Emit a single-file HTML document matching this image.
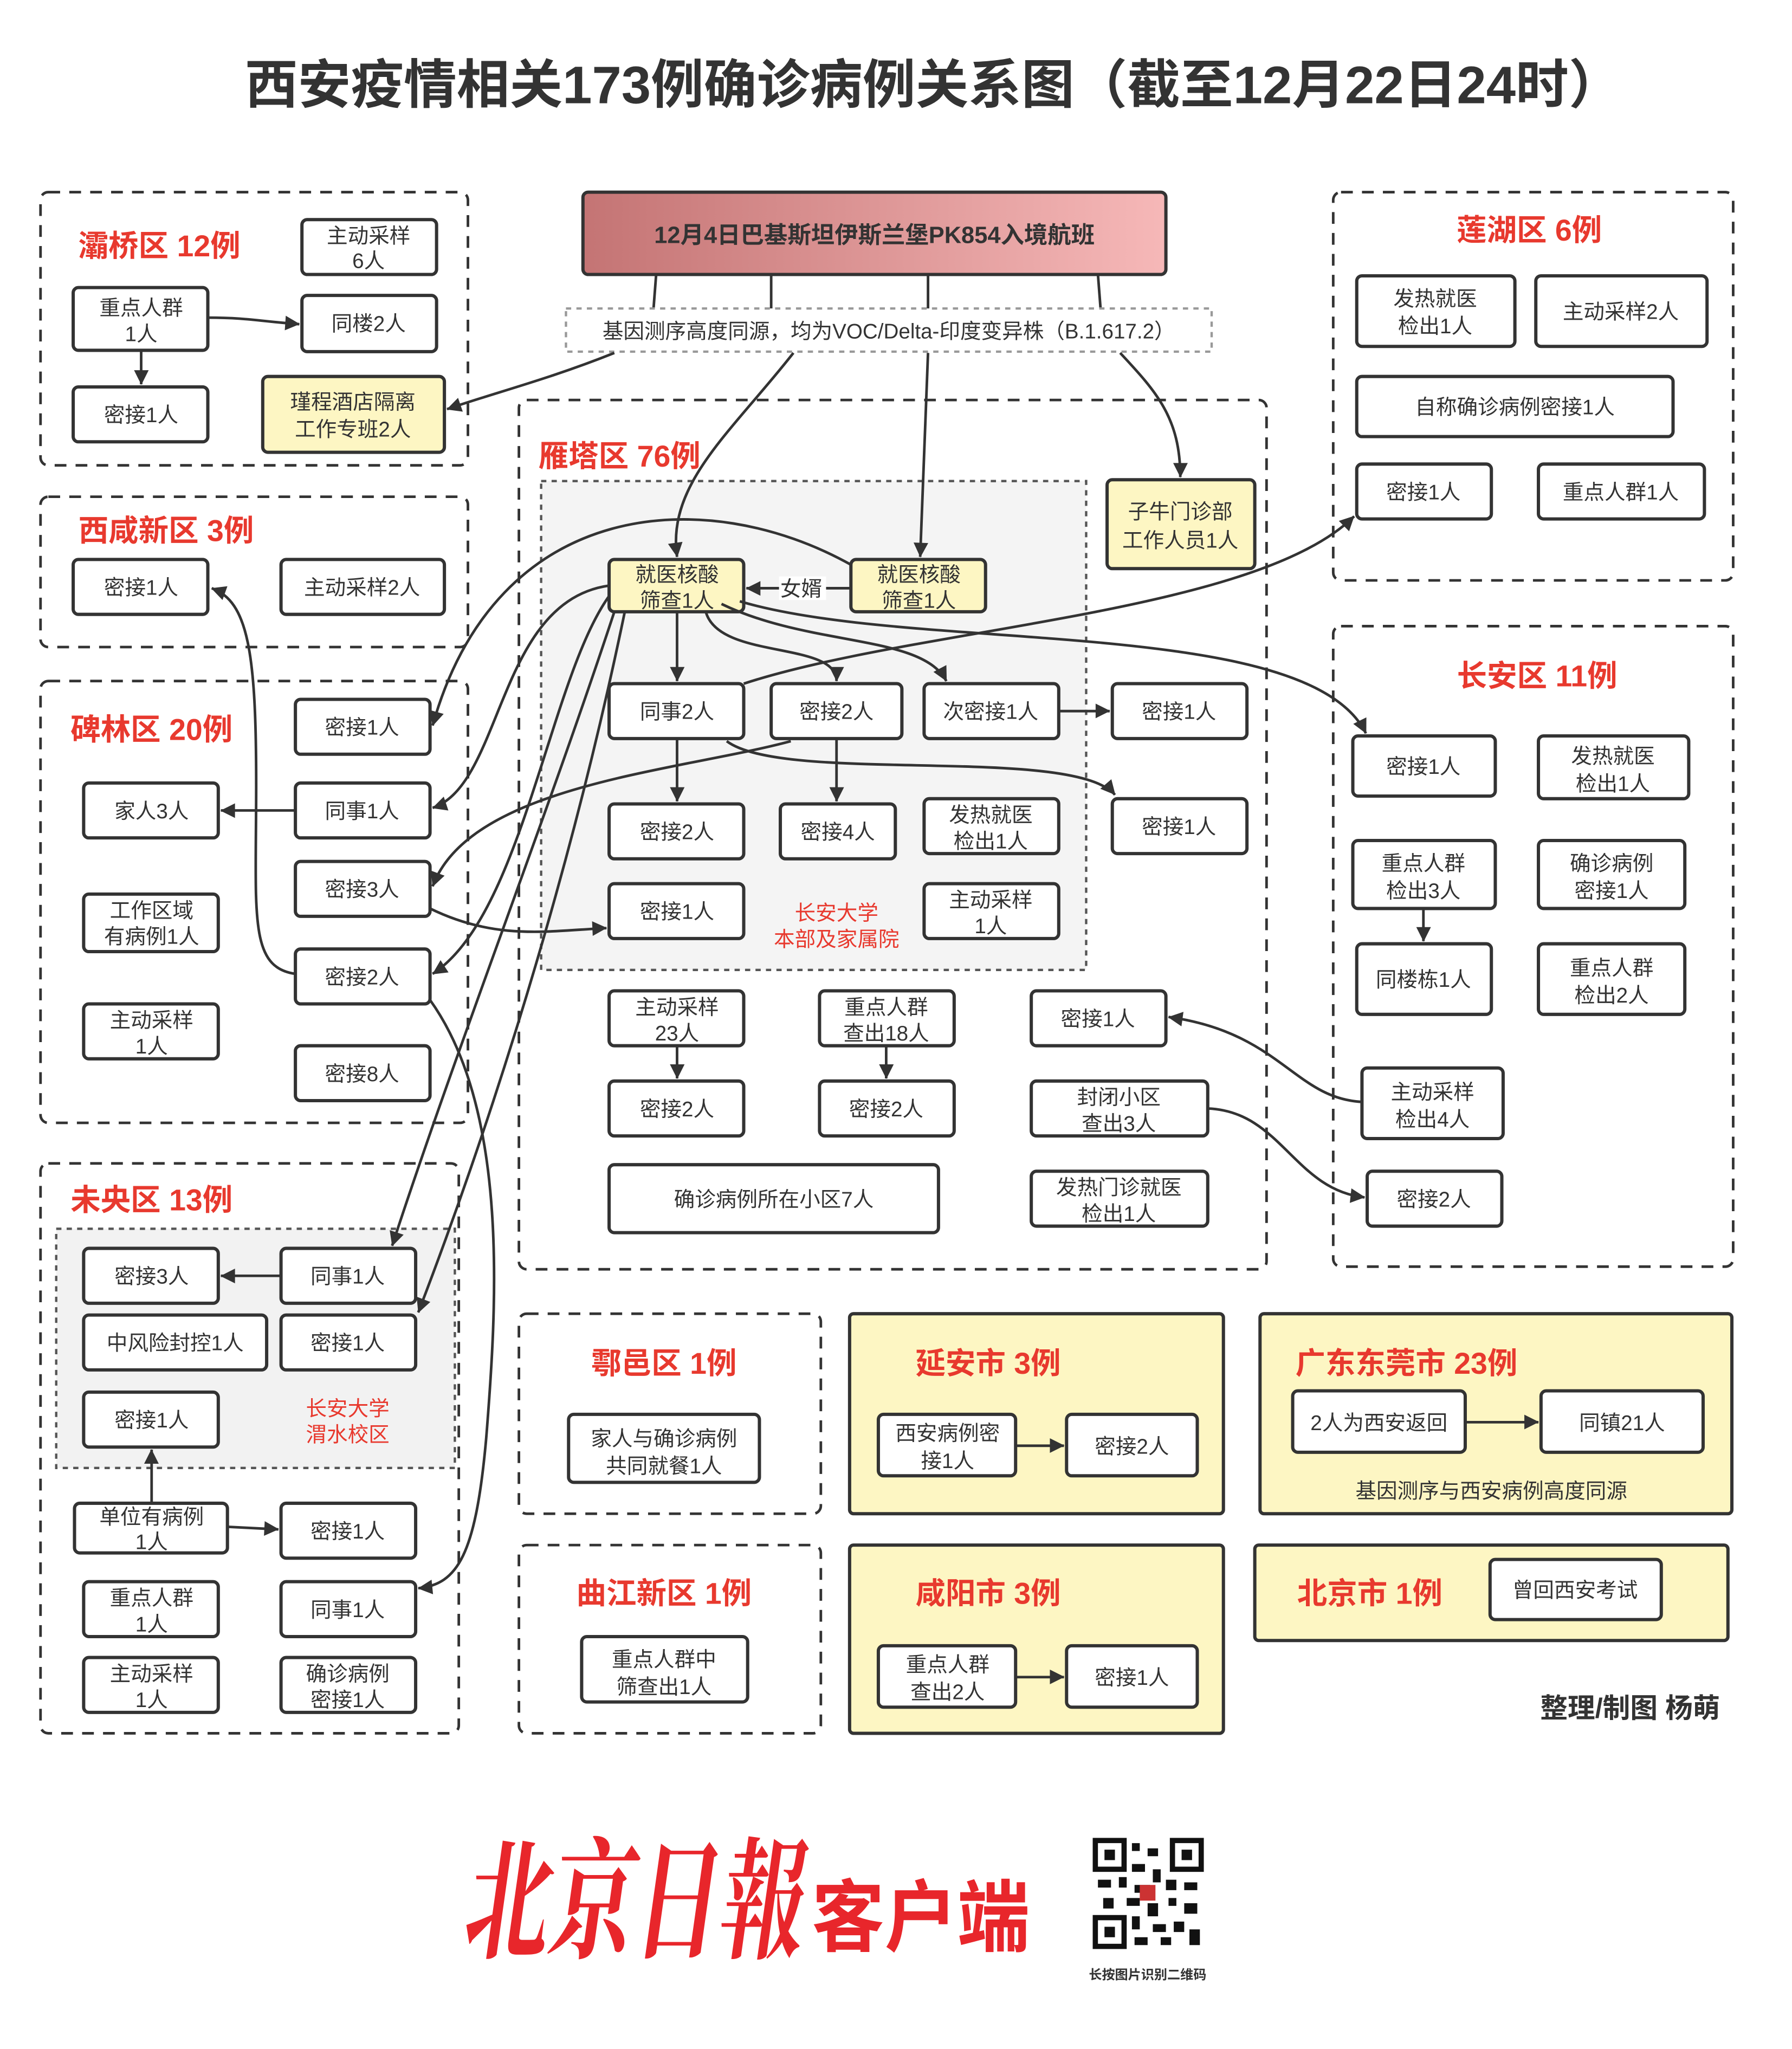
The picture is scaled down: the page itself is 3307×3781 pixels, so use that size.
<!DOCTYPE html>
<html><head><meta charset="utf-8">
<style>
html,body{margin:0;padding:0;background:#fff;}
svg{display:block;}
text{font-family:"Liberation Sans","Noto Sans CJK SC",sans-serif;fill:#333;}
.n{font-size:16px;text-anchor:middle;}
.t{font-size:23px;font-weight:bold;fill:#e8392e;}
.b{fill:#fff;stroke:#333;stroke-width:2.5;}
.y{fill:#fdf6c3;stroke:#333;stroke-width:2.5;}
.g{fill:none;stroke:#333;stroke-width:2;stroke-dasharray:9 7;}
.a{fill:none;stroke:#333;stroke-width:2;marker-end:url(#ar);}
.r{font-size:16px;fill:#e8392e;text-anchor:middle;}
</style></head><body>
<svg width="3307" height="3781" viewBox="0 0 1371 1567.5" preserveAspectRatio="none" xmlns="http://www.w3.org/2000/svg">
<defs>
<marker id="ar" viewBox="0 0 10 10" refX="9" refY="5" markerWidth="7" markerHeight="7" orient="auto-start-reverse" markerUnits="userSpaceOnUse" style="overflow:visible"><path d="M0,0 L10,5 L0,10 z" fill="#333" transform="scale(1.6) translate(-4,-2)"/></marker>
<linearGradient id="fl" x1="0" x2="1"><stop offset="0" stop-color="#c47474"/><stop offset="1" stop-color="#f6b8b8"/></linearGradient>
</defs>
<rect width="1371" height="1568" fill="#fff"/>
<text x="714" y="79" style="font-size:40.5px;font-weight:bold;text-anchor:middle;fill:#333">西安疫情相关173例确诊病例关系图（截至12月22日24时）</text>

<rect x="446" y="147" width="446" height="63" rx="4" fill="url(#fl)" stroke="#333" stroke-width="2.5"/>
<text x="669" y="186" style="font-size:18px;font-weight:bold;text-anchor:middle">12月4日巴基斯坦伊斯兰堡PK854入境航班</text>
<path d="M502,210 L500,236 M590,210 L590,236 M710,210 L710,236 M840,210 L842,236" stroke="#333" stroke-width="2" fill="none"/>
<rect x="433" y="236" width="494" height="33" fill="#fff" stroke="#999" stroke-width="1.8" stroke-dasharray="4 4"/>
<text x="680" y="259" class="n">基因测序高度同源，均为VOC/Delta-印度变异株（B.1.617.2）</text>

<rect x="31" y="147" width="327" height="209" rx="6" class="g"/>
<text x="60" y="196" class="t">灞桥区 12例</text>
<rect x="231" y="168" width="103" height="42" rx="4" class="b"/><text x="282" y="186" class="n">主动采样</text><text x="282" y="205" class="n">6人</text>
<rect x="56" y="220" width="103" height="48" rx="4" class="b"/><text x="108" y="241" class="n">重点人群</text><text x="108" y="261" class="n">1人</text>
<rect x="231" y="226" width="103" height="43" rx="4" class="b"/><text x="282" y="253" class="n">同楼2人</text>
<rect x="56" y="296" width="103" height="42" rx="4" class="b"/><text x="108" y="323" class="n">密接1人</text>
<rect x="201" y="288" width="139" height="58" rx="4" class="y"/><text x="270" y="313" class="n">瑾程酒店隔离</text><text x="270" y="334" class="n">工作专班2人</text>
<path class="a" d="M159,243 C190,243 200,246 229,248"/>
<path class="a" d="M108,268 L108,294"/>
<path class="a" d="M470,270 C420,290 380,300 342,313"/>

<rect x="31" y="380" width="327" height="115" rx="6" class="g"/>
<text x="60" y="414" class="t">西咸新区 3例</text>
<rect x="56" y="428" width="103" height="42" rx="4" class="b"/><text x="108" y="455" class="n">密接1人</text>
<rect x="215" y="428" width="125" height="42" rx="4" class="b"/><text x="277" y="455" class="n">主动采样2人</text>

<rect x="31" y="521" width="327" height="338" rx="6" class="g"/>
<text x="54" y="566" class="t">碑林区 20例</text>
<rect x="226" y="535" width="103" height="42" rx="4" class="b"/><text x="277" y="562" class="n">密接1人</text>
<rect x="64" y="599" width="103" height="42" rx="4" class="b"/><text x="116" y="626" class="n">家人3人</text>
<rect x="226" y="599" width="103" height="42" rx="4" class="b"/><text x="277" y="626" class="n">同事1人</text>
<rect x="64" y="684" width="103" height="44" rx="4" class="b"/><text x="116" y="702" class="n">工作区域</text><text x="116" y="722" class="n">有病例1人</text>
<rect x="226" y="659" width="103" height="42" rx="4" class="b"/><text x="277" y="686" class="n">密接3人</text>
<rect x="64" y="768" width="103" height="42" rx="4" class="b"/><text x="116" y="786" class="n">主动采样</text><text x="116" y="806" class="n">1人</text>
<rect x="226" y="726" width="103" height="42" rx="4" class="b"/><text x="277" y="753" class="n">密接2人</text>
<rect x="226" y="800" width="103" height="42" rx="4" class="b"/><text x="277" y="827" class="n">密接8人</text>
<path class="a" d="M226,620 L169,620"/>

<rect x="31" y="890" width="320" height="436" rx="6" class="g"/>
<text x="54" y="926" class="t">未央区 13例</text>
<rect x="43" y="940" width="305" height="183" fill="#f2f2f2" stroke="#555" stroke-width="1.8" stroke-dasharray="4 4"/>
<rect x="64" y="955" width="103" height="42" rx="4" class="b"/><text x="116" y="982" class="n">密接3人</text>
<rect x="215" y="955" width="103" height="42" rx="4" class="b"/><text x="266" y="982" class="n">同事1人</text>
<rect x="64" y="1006" width="140" height="42" rx="4" class="b"/><text x="134" y="1033" class="n">中风险封控1人</text>
<rect x="215" y="1006" width="103" height="42" rx="4" class="b"/><text x="266" y="1033" class="n">密接1人</text>
<rect x="64" y="1065" width="103" height="42" rx="4" class="b"/><text x="116" y="1092" class="n">密接1人</text>
<text x="266" y="1083" class="r">长安大学</text><text x="266" y="1103" class="r">渭水校区</text>
<rect x="57" y="1150" width="117" height="38" rx="4" class="b"/><text x="116" y="1166" class="n">单位有病例</text><text x="116" y="1185" class="n">1人</text>
<rect x="215" y="1150" width="103" height="42" rx="4" class="b"/><text x="266" y="1177" class="n">密接1人</text>
<rect x="64" y="1210" width="103" height="42" rx="4" class="b"/><text x="116" y="1228" class="n">重点人群</text><text x="116" y="1248" class="n">1人</text>
<rect x="215" y="1210" width="103" height="42" rx="4" class="b"/><text x="266" y="1237" class="n">同事1人</text>
<rect x="64" y="1268" width="103" height="42" rx="4" class="b"/><text x="116" y="1286" class="n">主动采样</text><text x="116" y="1306" class="n">1人</text>
<rect x="215" y="1268" width="103" height="42" rx="4" class="b"/><text x="266" y="1286" class="n">确诊病例</text><text x="266" y="1306" class="n">密接1人</text>
<path class="a" d="M215,976 L169,976"/>
<path class="a" d="M174,1168 L213,1170"/>
<path class="a" d="M116,1150 L116,1109"/>

<rect x="397" y="306" width="572" height="665" rx="6" class="g"/>
<text x="412" y="357" class="t">雁塔区 76例</text>
<rect x="414" y="368" width="417" height="374" fill="#f4f4f4" stroke="#555" stroke-width="1.8" stroke-dasharray="4 4"/>
<rect x="466" y="428" width="103" height="40" rx="4" class="y"/><text x="518" y="445" class="n">就医核酸</text><text x="518" y="465" class="n">筛查1人</text>
<rect x="651" y="428" width="103" height="40" rx="4" class="y"/><text x="703" y="445" class="n">就医核酸</text><text x="703" y="465" class="n">筛查1人</text>
<rect x="847" y="367" width="113" height="68" rx="4" class="y"/><text x="903" y="397" class="n">子牛门诊部</text><text x="903" y="419" class="n">工作人员1人</text>
<path class="a" d="M596,450 L571,450"/><path d="M596,450 L651,450" stroke="#333" stroke-width="2"/>
<rect x="596" y="441" width="36" height="18" fill="#fff"/><text x="613" y="456" class="n">女婿</text>

<rect x="466" y="523" width="103" height="42" rx="4" class="b"/><text x="518" y="550" class="n">同事2人</text>
<rect x="590" y="523" width="100" height="42" rx="4" class="b"/><text x="640" y="550" class="n">密接2人</text>
<rect x="707" y="523" width="103" height="42" rx="4" class="b"/><text x="758" y="550" class="n">次密接1人</text>
<rect x="851" y="523" width="103" height="42" rx="4" class="b"/><text x="902" y="550" class="n">密接1人</text>
<rect x="466" y="615" width="103" height="42" rx="4" class="b"/><text x="518" y="642" class="n">密接2人</text>
<rect x="597" y="615" width="88" height="42" rx="4" class="b"/><text x="641" y="642" class="n">密接4人</text>
<rect x="707" y="611" width="103" height="42" rx="4" class="b"/><text x="758" y="629" class="n">发热就医</text><text x="758" y="649" class="n">检出1人</text>
<rect x="851" y="611" width="103" height="42" rx="4" class="b"/><text x="902" y="638" class="n">密接1人</text>
<rect x="466" y="676" width="103" height="42" rx="4" class="b"/><text x="518" y="703" class="n">密接1人</text>
<text x="640" y="704" class="r">长安大学</text><text x="640" y="724" class="r">本部及家属院</text>
<rect x="707" y="676" width="103" height="42" rx="4" class="b"/><text x="758" y="694" class="n">主动采样</text><text x="758" y="714" class="n">1人</text>
<rect x="466" y="758" width="103" height="42" rx="4" class="b"/><text x="518" y="776" class="n">主动采样</text><text x="518" y="796" class="n">23人</text>
<rect x="627" y="758" width="103" height="42" rx="4" class="b"/><text x="678" y="776" class="n">重点人群</text><text x="678" y="796" class="n">查出18人</text>
<rect x="789" y="758" width="103" height="42" rx="4" class="b"/><text x="840" y="785" class="n">密接1人</text>
<rect x="466" y="827" width="103" height="42" rx="4" class="b"/><text x="518" y="854" class="n">密接2人</text>
<rect x="627" y="827" width="103" height="42" rx="4" class="b"/><text x="678" y="854" class="n">密接2人</text>
<rect x="789" y="827" width="135" height="42" rx="4" class="b"/><text x="856" y="845" class="n">封闭小区</text><text x="856" y="865" class="n">查出3人</text>
<rect x="466" y="891" width="252" height="52" rx="4" class="b"/><text x="592" y="923" class="n">确诊病例所在小区7人</text>
<rect x="789" y="896" width="135" height="42" rx="4" class="b"/><text x="856" y="914" class="n">发热门诊就医</text><text x="856" y="934" class="n">检出1人</text>
<path class="a" d="M518,565 L518,613"/>
<path class="a" d="M640,565 L640,613"/>
<path class="a" d="M810,544 L849,544"/>
<path class="a" d="M518,800 L518,825"/>
<path class="a" d="M678,800 L678,825"/>
<path class="a" d="M518,468 L518,521"/>

<rect x="1020" y="147" width="306" height="297" rx="6" class="g"/>
<text x="1170" y="184" class="t" style="text-anchor:middle">莲湖区 6例</text>
<rect x="1038" y="211" width="121" height="54" rx="4" class="b"/><text x="1098" y="234" class="n">发热就医</text><text x="1098" y="255" class="n">检出1人</text>
<rect x="1175" y="211" width="131" height="54" rx="4" class="b"/><text x="1240" y="244" class="n">主动采样2人</text>
<rect x="1038" y="288" width="242" height="46" rx="4" class="b"/><text x="1159" y="317" class="n">自称确诊病例密接1人</text>
<rect x="1038" y="355" width="103" height="42" rx="4" class="b"/><text x="1089" y="382" class="n">密接1人</text>
<rect x="1177" y="355" width="127" height="42" rx="4" class="b"/><text x="1240" y="382" class="n">重点人群1人</text>

<rect x="1020" y="479" width="306" height="490" rx="6" class="g"/>
<text x="1176" y="525" class="t" style="text-anchor:middle">长安区 11例</text>
<rect x="1035" y="563" width="109" height="46" rx="4" class="b"/><text x="1089" y="592" class="n">密接1人</text>
<rect x="1177" y="563" width="115" height="48" rx="4" class="b"/><text x="1234" y="584" class="n">发热就医</text><text x="1234" y="605" class="n">检出1人</text>
<rect x="1035" y="643" width="109" height="52" rx="4" class="b"/><text x="1089" y="666" class="n">重点人群</text><text x="1089" y="687" class="n">检出3人</text>
<rect x="1177" y="643" width="112" height="52" rx="4" class="b"/><text x="1233" y="666" class="n">确诊病例</text><text x="1233" y="687" class="n">密接1人</text>
<rect x="1038" y="722" width="103" height="54" rx="4" class="b"/><text x="1089" y="755" class="n">同楼栋1人</text>
<rect x="1177" y="722" width="112" height="54" rx="4" class="b"/><text x="1233" y="746" class="n">重点人群</text><text x="1233" y="767" class="n">检出2人</text>
<rect x="1042" y="817" width="108" height="54" rx="4" class="b"/><text x="1096" y="841" class="n">主动采样</text><text x="1096" y="862" class="n">检出4人</text>
<rect x="1046" y="896" width="103" height="42" rx="4" class="b"/><text x="1097" y="923" class="n">密接2人</text>
<path class="a" d="M1089,695 L1089,720"/>
<path class="a" d="M1042,843 C990,840 980,790 894,778"/>
<path class="a" d="M924,848 C980,850 990,910 1044,916"/>

<rect x="397" y="1005" width="231" height="153" rx="6" class="g"/>
<text x="508" y="1051" class="t" style="text-anchor:middle">鄠邑区 1例</text>
<rect x="435" y="1082" width="146" height="52" rx="4" class="b"/><text x="508" y="1106" class="n">家人与确诊病例</text><text x="508" y="1127" class="n">共同就餐1人</text>
<rect x="397" y="1182" width="231" height="144" rx="6" class="g"/>
<text x="508" y="1227" class="t" style="text-anchor:middle">曲江新区 1例</text>
<rect x="445" y="1252" width="127" height="50" rx="4" class="b"/><text x="508" y="1275" class="n">重点人群中</text><text x="508" y="1296" class="n">筛查出1人</text>

<rect x="650" y="1005" width="286" height="153" rx="3" fill="#fdf6c3" stroke="#333" stroke-width="2.5"/>
<text x="756" y="1051" class="t" style="text-anchor:middle">延安市 3例</text>
<rect x="672" y="1082" width="105" height="47" rx="4" class="b"/><text x="725" y="1102" class="n">西安病例密</text><text x="725" y="1123" class="n">接1人</text>
<rect x="816" y="1082" width="100" height="47" rx="4" class="b"/><text x="866" y="1112" class="n">密接2人</text>
<path class="a" d="M777,1106 L814,1106"/>
<rect x="650" y="1182" width="286" height="144" rx="3" fill="#fdf6c3" stroke="#333" stroke-width="2.5"/>
<text x="756" y="1227" class="t" style="text-anchor:middle">咸阳市 3例</text>
<rect x="672" y="1259" width="105" height="47" rx="4" class="b"/><text x="725" y="1279" class="n">重点人群</text><text x="725" y="1300" class="n">查出2人</text>
<rect x="816" y="1259" width="100" height="47" rx="4" class="b"/><text x="866" y="1289" class="n">密接1人</text>
<path class="a" d="M777,1283 L814,1283"/>

<rect x="964" y="1005" width="361" height="153" rx="3" fill="#fdf6c3" stroke="#333" stroke-width="2.5"/>
<text x="1076" y="1051" class="t" style="text-anchor:middle">广东东莞市 23例</text>
<rect x="989" y="1064" width="132" height="47" rx="4" class="b"/><text x="1055" y="1094" class="n">2人为西安返回</text>
<rect x="1179" y="1064" width="124" height="47" rx="4" class="b"/><text x="1241" y="1094" class="n">同镇21人</text>
<path class="a" d="M1121,1088 L1177,1088"/>
<text x="1141" y="1146" class="n">基因测序与西安病例高度同源</text>
<rect x="960" y="1182" width="362" height="73" rx="3" fill="#fdf6c3" stroke="#333" stroke-width="2.5"/>
<text x="1048" y="1227" class="t" style="text-anchor:middle">北京市 1例</text>
<rect x="1140" y="1193" width="131" height="46" rx="4" class="b"/><text x="1205" y="1222" class="n">曾回西安考试</text>

<path class="a" d="M607,270 C560,330 510,370 518,426"/>
<path class="a" d="M710,270 L704,426"/>
<path class="a" d="M857,270 C885,300 903,320 903,365"/>
<path class="a" d="M540,468 C550,505 640,490 640,521"/>
<path class="a" d="M552,462 C620,495 705,485 724,521"/>
<path class="a" d="M566,460 C700,500 1000,470 1045,561"/>
<path class="a" d="M569,523 C700,480 960,470 1036,395"/>
<path class="a" d="M651,432 C540,370 380,380 331,555"/>
<path class="a" d="M466,448 C380,460 385,600 331,618"/>
<path class="a" d="M470,468 C420,620 350,800 300,953"/>
<path class="a" d="M478,468 C430,700 360,900 320,1004"/>
<path class="a" d="M466,456 C420,520 400,700 331,745"/>
<path class="a" d="M605,567 C520,590 360,600 331,678"/>
<path class="a" d="M556,567 C600,600 820,570 853,608"/>
<path class="a" d="M329,695 C380,720 420,712 464,710"/>
<path class="a" d="M226,745 C190,740 196,700 196,600 C196,500 190,460 162,450"/>
<path class="a" d="M329,765 C390,850 380,1000 372,1100 C364,1190 350,1212 320,1215"/>

<text x="1316" y="1314" style="font-size:21px;font-weight:bold;text-anchor:end;fill:#333">整理/制图 杨萌</text>
<text x="352" y="1490" textLength="260" lengthAdjust="spacingAndGlyphs" transform="skewX(-8) translate(210,0)" style="font-family:'Noto Serif CJK SC','Liberation Serif',serif;font-size:100px;font-weight:bold;fill:#e8262b">北京日報</text>
<text x="621" y="1488" textLength="167" lengthAdjust="spacingAndGlyphs" style="font-size:60px;font-weight:bold;fill:#e8262b">客户端</text>
<g transform="translate(836,1406)">
<rect width="85" height="85" fill="#fff"/>
<rect x="2" y="2" width="22" height="22" fill="none" stroke="#111" stroke-width="4"/><rect x="9" y="9" width="8" height="8" fill="#111"/>
<rect x="61" y="2" width="22" height="22" fill="none" stroke="#111" stroke-width="4"/><rect x="68" y="9" width="8" height="8" fill="#111"/>
<rect x="2" y="61" width="22" height="22" fill="none" stroke="#111" stroke-width="4"/><rect x="9" y="68" width="8" height="8" fill="#111"/>
<path d="M30,4h6v6h-6zM42,8h8v6h-8zM30,20h10v6h-10zM46,24h6v10h-6zM4,32h10v6h-10zM20,30h6v8h-6zM32,36h12v6h-12zM56,32h8v8h-8zM70,34h10v6h-10zM8,46h8v8h-8zM26,46h10v6h-10zM42,50h8v10h-8zM58,46h6v6h-6zM70,50h10v8h-10zM30,60h6v10h-6zM46,66h10v6h-10zM62,64h8v8h-8zM74,70h8v12h-8zM32,76h10v6h-10zM52,76h8v6h-8z" fill="#111"/>
<rect x="36" y="36" width="12" height="12" fill="#c33"/>
</g>
<text x="878" y="1514" style="font-size:10px;font-weight:bold;text-anchor:middle;fill:#333">长按图片识别二维码</text>
</svg>
</body></html>
